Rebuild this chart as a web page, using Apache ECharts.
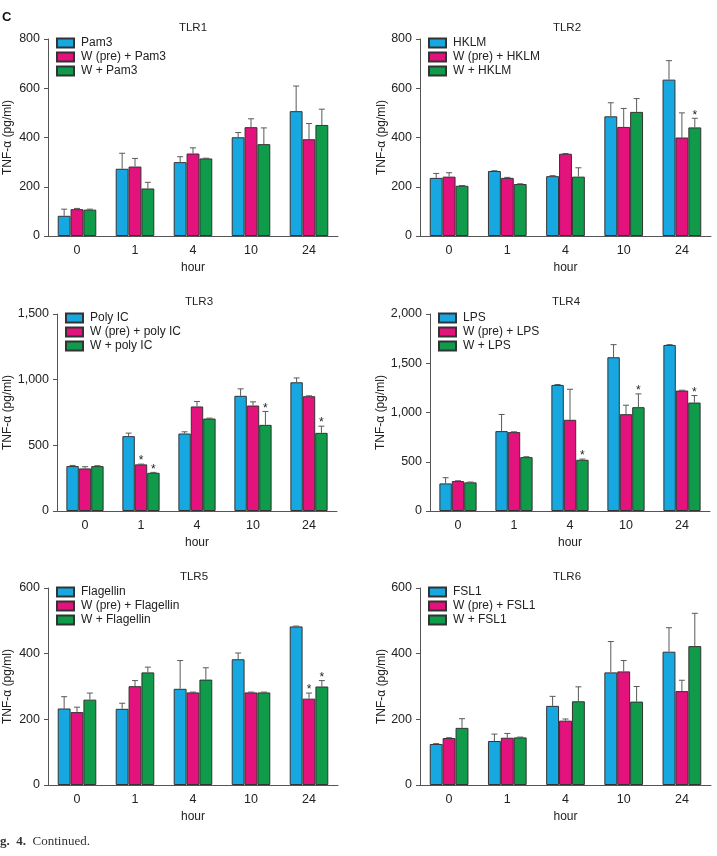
<!DOCTYPE html>
<html>
<head>
<meta charset="utf-8">
<script src="https://cdn.jsdelivr.net/npm/echarts@6/dist/echarts.min.js"></script>
<style>
html, body { margin: 0; padding: 0; background: #fff; }
#chart { width: 717px; height: 856px; }
</style>
</head>
<body>
<div id="chart"></div>
<script>
const hours = ['0', '1', '4', '10', '24'];

// TLR1
const tlr1Names = ['Pam3', 'W (pre) + Pam3', 'W + Pam3'];
const tlr1Mean = [[82, 273, 300, 401, 507], [109, 282, 335, 442, 393], [107, 193, 315, 373, 451]];
const tlr1Sd = [[27, 63, 22, 19, 102], [3, 33, 23, 34, 64], [2, 25, 1, 66, 64]];
const tlr1Stars = [];

// TLR2
const tlr2Names = ['HKLM', 'W (pre) + HKLM', 'W + HKLM'];
const tlr2Mean = [[236, 264, 243, 486, 635], [241, 236, 334, 443, 400], [204, 211, 241, 504, 441]];
const tlr2Sd = [[18, 1, 2, 55, 77], [16, 2, 1, 75, 100], [1, 1, 36, 54, 37]];
const tlr2Stars = [[4, 2]]; // [hour index, series index]

// TLR3
const tlr3Names = ['Poly IC', 'W (pre) + poly IC', 'W + poly IC'];
const tlr3Mean = [[342, 570, 590, 877, 980], [324, 355, 796, 803, 874], [342, 291, 704, 656, 595]];
const tlr3Sd = [[5, 23, 13, 53, 33], [13, 2, 38, 28, 3], [3, 3, 3, 102, 51]];
const tlr3Stars = [[1, 1], [1, 2], [3, 2], [4, 2]];

// TLR4
const tlr4Names = ['LPS', 'W (pre) + LPS', 'W + LPS'];
const tlr4Mean = [[280, 811, 1280, 1561, 1686], [304, 801, 926, 983, 1223], [291, 547, 520, 1054, 1101]];
const tlr4Sd = [[58, 169, 4, 128, 3], [3, 3, 310, 91, 3], [3, 4, 7, 135, 71]];
const tlr4Stars = [[2, 2], [3, 2], [4, 2]];

// TLR5
const tlr5Names = ['Flagellin', 'W (pre) + Flagellin', 'W + Flagellin'];
const tlr5Mean = [[233, 232, 293, 383, 483], [222, 301, 282, 282, 263], [260, 343, 321, 282, 300]];
const tlr5Sd = [[36, 17, 86, 19, 1], [15, 17, 1, 1, 17], [20, 16, 36, 1, 18]];
const tlr5Stars = [[4, 1], [4, 2]];

// TLR6
const tlr6Names = ['FSL1', 'W (pre) + FSL1', 'W + FSL1'];
const tlr6Mean = [[125, 134, 241, 343, 406], [143, 144, 196, 346, 286], [174, 145, 255, 254, 423]];
const tlr6Sd = [[1, 21, 29, 94, 73], [1, 13, 5, 33, 33], [28, 1, 44, 46, 100]];
const tlr6Stars = [];

const colors = ['#17a8e2', '#e3127d', '#0f9b49'];
const font = 'Liberation Sans, Arial, sans-serif';
const ink = '#222';
const axisGray = '#555';
const catGap = 0.335;

const panels = [
  { title: 'TLR1', names: tlr1Names, mean: tlr1Mean, sd: tlr1Sd, stars: tlr1Stars, max: 800, step: 200,
    grid: { left: 48, top: 39, width: 290, height: 197 }, nameGap: 34, tx: 193, ty: 28 },
  { title: 'TLR2', names: tlr2Names, mean: tlr2Mean, sd: tlr2Sd, stars: tlr2Stars, max: 800, step: 200,
    grid: { left: 420, top: 39, width: 291, height: 197 }, nameGap: 32, tx: 567, ty: 28 },
  { title: 'TLR3', names: tlr3Names, mean: tlr3Mean, sd: tlr3Sd, stars: tlr3Stars, max: 1500, step: 500,
    grid: { left: 57, top: 314, width: 280, height: 197 }, nameGap: 43, tx: 199, ty: 302 },
  { title: 'TLR4', names: tlr4Names, mean: tlr4Mean, sd: tlr4Sd, stars: tlr4Stars, max: 2000, step: 500,
    grid: { left: 430, top: 314, width: 280, height: 197 }, nameGap: 43, tx: 566, ty: 302 },
  { title: 'TLR5', names: tlr5Names, mean: tlr5Mean, sd: tlr5Sd, stars: tlr5Stars, max: 600, step: 200,
    grid: { left: 48, top: 588, width: 290, height: 197 }, nameGap: 34, tx: 194, ty: 577 },
  { title: 'TLR6', names: tlr6Names, mean: tlr6Mean, sd: tlr6Sd, stars: tlr6Stars, max: 600, step: 200,
    grid: { left: 420, top: 588, width: 291, height: 197 }, nameGap: 32, tx: 567, ty: 577 }
];

// centre x of bar k inside a category band
function barX(api, c, k) {
  const band = api.size([1, 0])[0];
  const bw = band * (1 - catGap) / 3;
  return api.coord([c, 0])[0] + (k - 1) * bw;
}

function renderErr(params, api) {
  const c = api.value(0), k = api.value(1), m = api.value(2), s = api.value(3);
  const x = barX(api, c, k);
  const y0 = api.coord([c, m])[1];
  const y1 = api.coord([c, m + s])[1];
  const st = { stroke: '#5a5a5a', lineWidth: 1 };
  return {
    type: 'group',
    children: [
      { type: 'line', shape: { x1: x, y1: y0, x2: x, y2: y1 }, style: st },
      { type: 'line', shape: { x1: x - 3, y1: y1, x2: x + 3, y2: y1 }, style: st }
    ]
  };
}

function renderStar(params, api) {
  const c = api.value(0), k = api.value(1), top = api.value(2);
  const x = barX(api, c, k);
  const y = api.coord([c, top])[1];
  return {
    type: 'text',
    x: x, y: y - 3,
    style: { text: '*', fontSize: 12, fontFamily: font, fill: ink, align: 'center', verticalAlign: 'middle' }
  };
}

const grid = [], xAxis = [], yAxis = [], legend = [], series = [], graphic = [];

panels.forEach((p, i) => {
  grid.push(p.grid);
  xAxis.push({
    type: 'category', gridIndex: i, data: hours,
    name: 'hour', nameLocation: 'middle', nameGap: 26,
    nameTextStyle: { fontSize: 12, color: ink, fontFamily: font },
    axisLine: { lineStyle: { color: axisGray, width: 1 } },
    axisTick: { length: 4, lineStyle: { color: axisGray } },
    axisLabel: { fontSize: 12.5, color: ink, fontFamily: font, margin: 8 }
  });
  yAxis.push({
    type: 'value', gridIndex: i, min: 0, max: p.max, interval: p.step,
    name: 'TNF-α (pg/ml)', nameLocation: 'middle', nameGap: p.nameGap,
    nameTextStyle: { fontSize: 12, color: ink, fontFamily: font },
    axisLine: { show: true, lineStyle: { color: axisGray, width: 1 } },
    axisTick: { show: true, length: 4, lineStyle: { color: axisGray } },
    splitLine: { show: false },
    axisLabel: {
      fontSize: 12.5, color: ink, fontFamily: font, margin: 8,
      formatter: v => v.toLocaleString('en-US')
    }
  });
  legend.push({
    data: p.names, orient: 'vertical', selectedMode: false, icon: 'rect',
    left: p.grid.left + 8, top: p.grid.top - 3, padding: 0,
    itemWidth: 17, itemHeight: 9, itemGap: 0,
    textStyle: { fontSize: 12, lineHeight: 14, color: ink, fontFamily: font, padding: [0, 0, 0, 2] }
  });

  const errData = [];
  const starData = [];
  p.names.forEach((name, k) => {
    series.push({
      type: 'bar', name: name, xAxisIndex: i, yAxisIndex: i,
      data: p.mean[k], barGap: '0%', barCategoryGap: (catGap * 100) + '%',
      itemStyle: { color: colors[k], borderColor: '#333', borderWidth: 1 },
      emphasis: { disabled: true }
    });
    p.mean[k].forEach((m, c) => errData.push([c, k, m, p.sd[k][c]]));
  });
  p.stars.forEach(([c, k]) => starData.push([c, k, p.mean[k][c] + p.sd[k][c]]));

  series.push({
    type: 'custom', xAxisIndex: i, yAxisIndex: i, z: 5, silent: true,
    encode: { x: 0, y: 2 }, data: errData, renderItem: renderErr
  });
  if (starData.length) {
    series.push({
      type: 'custom', xAxisIndex: i, yAxisIndex: i, z: 6, silent: true,
      encode: { x: 0, y: 2 }, data: starData, renderItem: renderStar
    });
  }

  graphic.push({
    type: 'text', x: p.tx, y: p.ty,
    style: { text: p.title, fontSize: 11.5, fontFamily: font, fill: ink, align: 'center', verticalAlign: 'middle' }
  });
});

graphic.push({
  type: 'text', x: 2, y: 17,
  style: { text: 'C', fontSize: 13, fontWeight: 'bold', fontFamily: font, fill: '#111', align: 'left', verticalAlign: 'middle' }
});
graphic.push({
  type: 'text', x: 0, y: 842,
  style: {
    text: '{b|g.  4.}  Continued.',
    fontSize: 13, fontFamily: 'Liberation Serif, Times New Roman, serif', fill: '#333', verticalAlign: 'middle',
    rich: { b: { fontWeight: 'bold', fontSize: 13, fontFamily: 'Liberation Serif, Times New Roman, serif', fill: '#333' } }
  }
});

const chart = echarts.init(document.getElementById('chart'), null, { renderer: 'canvas' });
chart.setOption({
  animation: false,
  backgroundColor: '#fff',
  grid: grid,
  xAxis: xAxis,
  yAxis: yAxis,
  legend: legend,
  series: series,
  graphic: graphic
});
</script>
</body>
</html>
